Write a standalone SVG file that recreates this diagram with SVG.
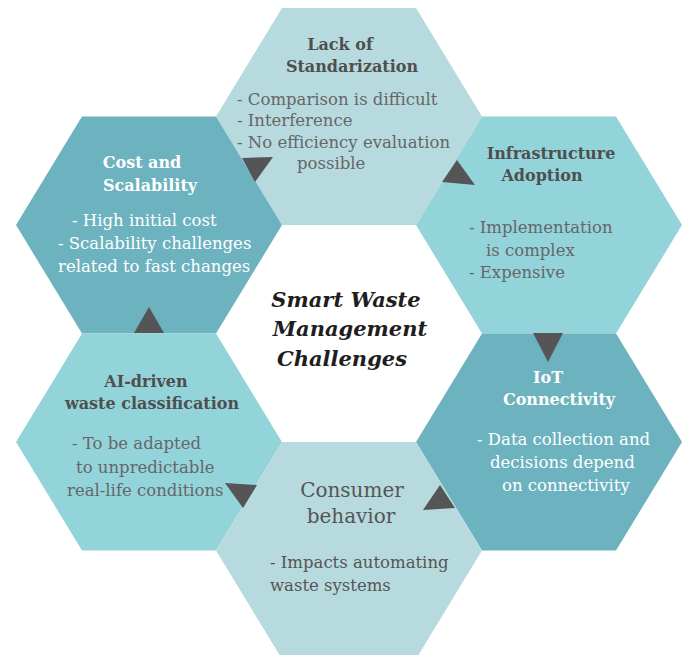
<svg xmlns="http://www.w3.org/2000/svg" width="688" height="655" viewBox="0 0 688 655">
  <style>
    .hex-light { fill: #b7dadf; }
    .hex-mid { fill: #93d4db; }
    .hex-dark { fill: #6cb2bf; }
    text { font-family: "DejaVu Serif", "Liberation Serif", serif; font-size: 16.5px; }
    .head { font-weight: bold; font-size: 16px; fill: #4f4f4f; text-anchor: middle; }
    .head-w { font-weight: bold; font-size: 16px; fill: #ffffff; text-anchor: middle; }
    .body { fill: #666666; }
    .body-w { fill: #ffffff; }
    .title { font-weight: bold; font-style: italic; font-size: 21px; fill: #1e1e1e; text-anchor: middle; }
    .tri { fill: #555558; }
  </style>

  <rect width="688" height="655" fill="#ffffff"/>

  <!-- top: standardization -->
  <g id="standardization">
    <polygon class="hex-light" points="282,8 416,8 482,116.5 416,225 282,225 216,116.5"/>
    <text class="head" x="340" y="50">Lack of</text>
    <text class="head" x="352" y="72">Standarization</text>
    <text class="body" x="237" y="105">- Comparison is difficult</text>
    <text class="body" x="237" y="126">- Interference</text>
    <text class="body" x="237" y="148">- No efficiency evaluation</text>
    <text class="body" x="297" y="169">possible</text>
  </g>

  <!-- upper left: cost -->
  <g id="cost">
    <polygon class="hex-dark" points="82,116.5 216,116.5 282,225 216,333.5 82,333.5 16,225"/>
    <text class="head-w" x="142" y="168">Cost and</text>
    <text class="head-w" x="150" y="191">Scalability</text>
    <text class="body-w" x="72" y="226">- High initial cost</text>
    <text class="body-w" x="58" y="249">- Scalability challenges</text>
    <text class="body-w" x="58" y="272">related to fast changes</text>
  </g>

  <!-- upper right: infrastructure -->
  <g id="infrastructure">
    <polygon class="hex-mid" points="482,116.5 616,116.5 682,225 616,333.5 482,333.5 416,225"/>
    <text class="head" x="551" y="159">Infrastructure</text>
    <text class="head" x="542" y="181">Adoption</text>
    <text class="body" x="469" y="233">- Implementation</text>
    <text class="body" x="486" y="256">is complex</text>
    <text class="body" x="469" y="278">- Expensive</text>
  </g>

  <!-- lower left: AI classification -->
  <g id="ai-classification">
    <polygon class="hex-mid" points="82,333.5 216,333.5 282,442 216,550.5 82,550.5 16,442"/>
    <text class="head" x="146" y="387">AI-driven</text>
    <text class="head" x="152" y="409">waste classification</text>
    <text class="body" x="72" y="449">- To be adapted</text>
    <text class="body" x="76" y="473">to unpredictable</text>
    <text class="body" x="67" y="496">real-life conditions</text>
  </g>

  <!-- lower right: IoT -->
  <g id="iot">
    <polygon class="hex-dark" points="482,333.5 616,333.5 682,442 616,550.5 482,550.5 416,442"/>
    <text class="head-w" x="548" y="383">IoT</text>
    <text class="head-w" x="559" y="405">Connectivity</text>
    <text class="body-w" x="477" y="445">- Data collection and</text>
    <text class="body-w" x="490" y="468">decisions depend</text>
    <text class="body-w" x="502" y="491">on connectivity</text>
  </g>

  <!-- bottom: consumer -->
  <g id="consumer">
    <polygon class="hex-light" points="282,442 416,442 482,550.5 416,659 282,659 216,550.5"/>
    <text x="352" y="497" style="font-size:20px;fill:#555555;text-anchor:middle">Consumer</text>
    <text x="351" y="523" style="font-size:20px;fill:#555555;text-anchor:middle">behavior</text>
    <text class="body" x="270" y="568" style="fill:#555555">- Impacts automating</text>
    <text class="body" x="270" y="591" style="fill:#555555">waste systems</text>
  </g>

  <!-- centre -->
  <g id="center">
    <text class="title" x="346" y="307">Smart Waste</text>
    <text class="title" x="350" y="336">Management</text>
    <text class="title" x="342" y="366">Challenges</text>
  </g>

  <!-- cycle arrows -->
  <g id="connectors">
    <polygon class="tri" points="242,158 273,157 255,182"/>
    <polygon class="tri" points="457,160 475,185 442,182"/>
    <polygon class="tri" points="533,333 563,333 548,362"/>
    <polygon class="tri" points="440,485 455,508 423,510"/>
    <polygon class="tri" points="225,483 257,485 243,508"/>
    <polygon class="tri" points="149,307 164,333 134,333"/>
  </g>
</svg>
